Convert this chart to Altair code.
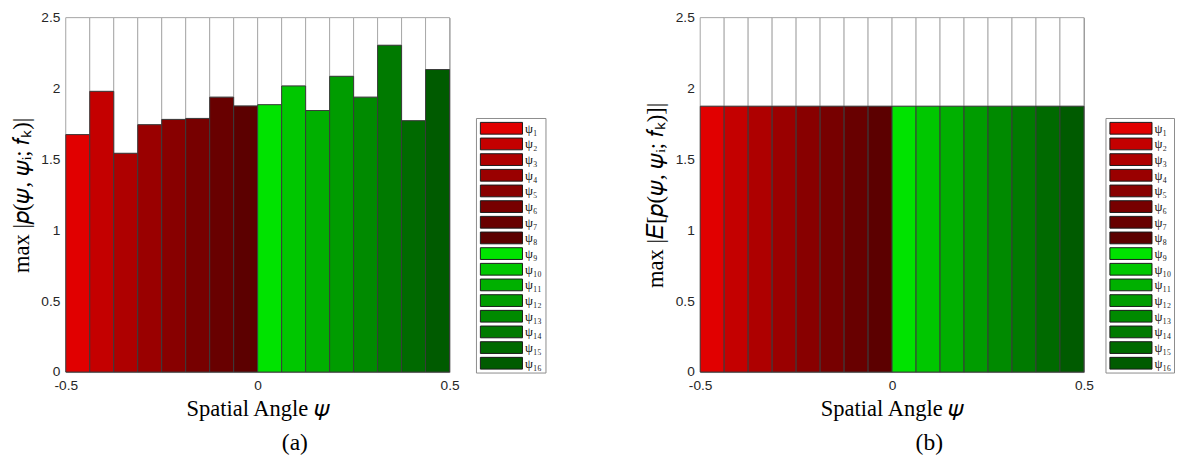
import altair as alt
import pandas as pd

# ---------------- data ----------------
labels = ["ψ₁", "ψ₂", "ψ₃", "ψ₄", "ψ₅", "ψ₆", "ψ₇", "ψ₈",
          "ψ₉", "ψ₁₀", "ψ₁₁", "ψ₁₂", "ψ₁₃", "ψ₁₄", "ψ₁₅", "ψ₁₆"]
colors = ["#e10000", "#c40000", "#ae0000", "#9a0000", "#880000", "#770000", "#680000", "#5c0000",
          "#00e300", "#00c700", "#00b000", "#009c00", "#008a00", "#007a00", "#006a00", "#005b00"]
vals_a = [1.675, 1.980, 1.543, 1.745, 1.782, 1.789, 1.939, 1.877,
          1.886, 2.018, 1.845, 2.086, 1.939, 2.305, 1.773, 2.134]
vals_b = [1.875, 1.875, 1.875, 1.875, 1.875, 1.875, 1.875, 1.875,
          1.875, 1.875, 1.875, 1.875, 1.875, 1.875, 1.875, 1.875]
x_ticks = [-0.5, 0, 0.5]
y_ticks = [0, 0.5, 1, 1.5, 2, 2.5]
x_min, x_max = -0.5, 0.5
y_max = 2.5

title_a = "max |𝑝(𝜓, 𝜓ᵢ; 𝑓ₖ)|"
title_b = "max |𝐸[𝑝(𝜓, 𝜓ᵢ; 𝑓ₖ)]|"
x_title = "Spatial Angle 𝜓"

# ---------------- layout ----------------
PW, PH = 392, 362
LH = PH + 4
SERIF = "Liberation Serif"
SANS = "Liberation Sans"

n = len(vals_a)
step = (x_max - x_min) / n
edges0 = [x_min + i * step for i in range(n)]
edges1 = [x_min + (i + 1) * step for i in range(n)]


def panel(vals, ytitle, caption):
    df = pd.DataFrame({"x0": edges0, "x1": edges1, "v": vals,
                       "top": [y_max] * n, "color": colors})
    xs = alt.Scale(domain=[x_min, x_max], nice=False, zero=False)
    ys = alt.Scale(domain=[0, y_max], nice=False)
    base = alt.Chart(df)
    white = base.mark_rect(fill="white", stroke="#a8a8a8", strokeWidth=1).encode(
        x=alt.X("x0:Q", scale=xs,
                axis=alt.Axis(values=x_ticks, labelExpr="toString(datum.value)", labelFlush=False,
                              title=x_title, labelPadding=7, titlePadding=5)),
        x2="x1:Q",
        y=alt.Y("v:Q", scale=ys,
                axis=alt.Axis(values=y_ticks, labelExpr="toString(datum.value)", labelFlush=False,
                              title=ytitle, labelPadding=6, titlePadding=8)),
        y2="top:Q",
    )
    bars = base.mark_rect(stroke="#3a3a3a", strokeWidth=1).encode(
        x="x0:Q", x2="x1:Q",
        y="v:Q", y2=alt.datum(0),
        color=alt.Color("color:N", scale=None),
    )
    return alt.layer(white, bars).properties(
        width=PW, height=PH,
        view=alt.ViewConfig(stroke="#8c8c8c", strokeWidth=1),
        title=alt.TitleParams(caption, orient="bottom", anchor="middle", dx=38, offset=12,
                              font=SERIF, fontSize=24, fontWeight="normal", color="black"),
    )


ROW = 16.0  # pixels per legend row
TOP_SHIFT = 103.0 / ROW  # legend box offset below the plot top, in rows


def legend(width, box_w):
    rows = list(range(n))
    ldf = pd.DataFrame({
        "name": labels, "color": colors,
        "y0": [r + TOP_SHIFT + 0.25 for r in rows], "y1": [r + TOP_SHIFT + 1.0 for r in rows],
        "ym": [r + TOP_SHIFT + 0.65 for r in rows],
        "sx0": [4.5] * n, "sx1": [47.5] * n, "tx": [50.0] * n,
    })
    bdf = pd.DataFrame({"bx0": [0.5], "bx1": [box_w - 0.5],
                        "by0": [TOP_SHIFT], "by1": [TOP_SHIFT + 16.25]})
    xs = alt.Scale(domain=[0, width], nice=False, zero=False)
    ys = alt.Scale(domain=[0, LH / ROW], nice=False, zero=False, reverse=True)
    box = alt.Chart(bdf).mark_rect(fill="white", stroke="#8a8a8a", strokeWidth=1).encode(
        x=alt.X("bx0:Q", scale=xs, axis=None), x2="bx1:Q",
        y=alt.Y("by0:Q", scale=ys, axis=None), y2="by1:Q",
    )
    sw = alt.Chart(ldf).mark_rect(stroke="#1a1a1a", strokeWidth=1).encode(
        x=alt.X("sx0:Q", scale=xs, axis=None), x2="sx1:Q",
        y=alt.Y("y0:Q", scale=ys, axis=None), y2="y1:Q",
        color=alt.Color("color:N", scale=None),
    )
    tx = alt.Chart(ldf).mark_text(align="left", baseline="middle", font=SERIF, fontSize=13,
                                  color="#111111").encode(
        x=alt.X("tx:Q", scale=xs, axis=None),
        y=alt.Y("ym:Q", scale=ys, axis=None),
        text="name:N",
    )
    return alt.layer(box, sw, tx).properties(
        width=width, height=LH, view=alt.ViewConfig(stroke=None))


left = alt.hconcat(panel(vals_a, title_a, "(a)"), legend(72, 72), spacing=16)
right = alt.hconcat(panel(vals_b, title_b, "(b)"), legend(71, 71), spacing=11)

chart = alt.hconcat(left, right, spacing=100).properties(
    padding={"left": 2, "top": -3, "right": 0, "bottom": 0}
).configure_view(stroke=None).configure_axis(
    labelFont=SANS, labelFontSize=14, labelColor="#262626",
    titleFont=SERIF, titleFontSize=23, titleFontWeight="normal", titleColor="black",
    tickSize=0, domain=False, grid=False,
).configure_concat(spacing=0)

chart.save("out.html", embed_options={"renderer": "svg", "actions": False})
